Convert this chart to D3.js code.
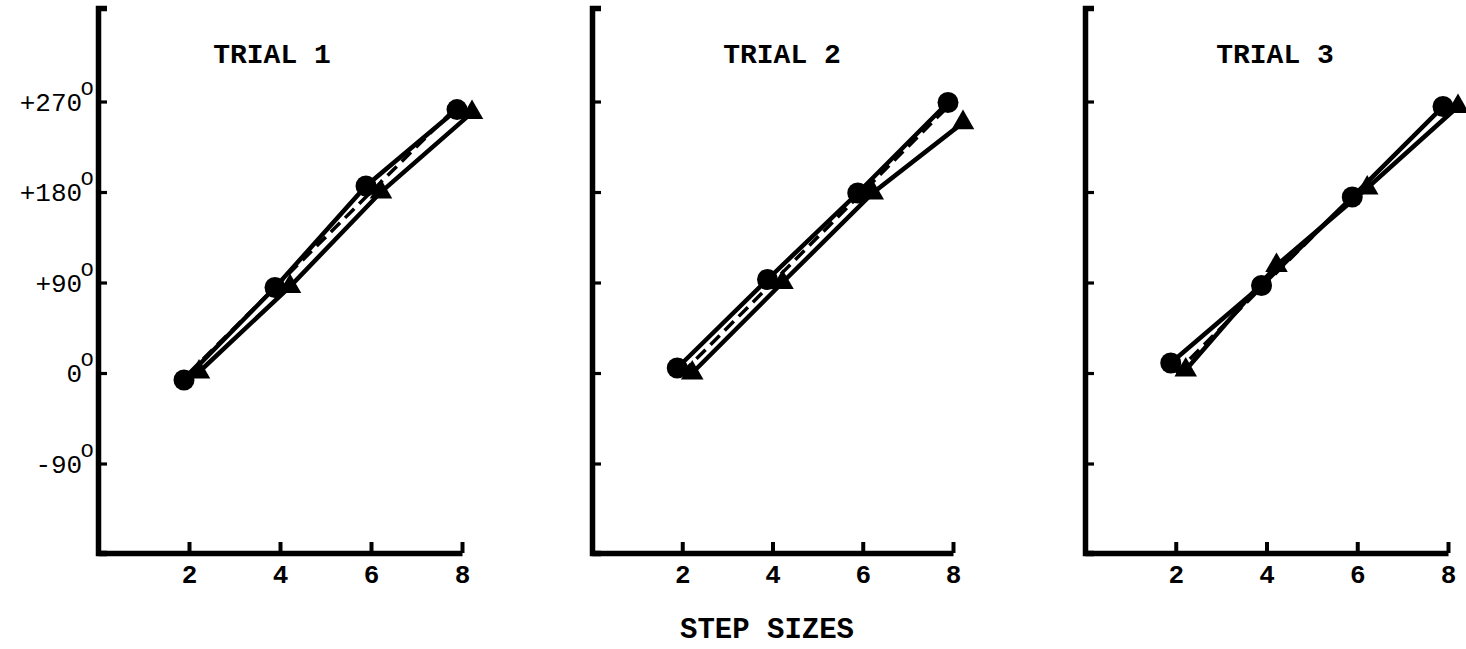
<!DOCTYPE html>
<html>
<head>
<meta charset="utf-8">
<script src="https://cdn.jsdelivr.net/npm/d3@7"></script>
<style>
  html, body { margin: 0; padding: 0; background: #fff; }
  svg { display: block; }
</style>
</head>
<body>
<svg id="chart" width="1466" height="649"></svg>
<script>
// ---- data ----
const steps = [2, 4, 6, 8];
const idealValues = [0, 90, 180, 270];
const trial1Circles = [-7, 85, 186, 262];
const trial1Triangles = [1, 86, 180, 259];
const trial2Circles = [5, 93, 179, 269];
const trial2Triangles = [0, 90, 179, 249];
const trial3Circles = [10, 87, 175, 265];
const trial3Triangles = [3, 107, 184, 265];
const trialTitles = ["TRIAL 1", "TRIAL 2", "TRIAL 3"];
const yTickValues = [-90, 0, 90, 180, 270];
const yTickLabels = ["-90", "0", "+90", "+180", "+270"];
const xTickValues = [2, 4, 6, 8];
const xAxisTitle = "STEP SIZES";
const degreeMark = "o";

// ---- layout ----
const panels = [
  { left: 98,  right: 462,  titleX: 272,  circles: trial1Circles, triangles: trial1Triangles, title: trialTitles[0], labels: true },
  { left: 592, right: 953,  titleX: 782,  circles: trial2Circles, triangles: trial2Triangles, title: trialTitles[1], labels: false },
  { left: 1085, right: 1448, titleX: 1275, circles: trial3Circles, triangles: trial3Triangles, title: trialTitles[2], labels: false }
];
const yTop = 8, yBottom = 553;
const monoFont = "'Liberation Mono', 'DejaVu Sans Mono', monospace";

const svg = d3.select("#chart");
const y = d3.scaleLinear().domain([-179, 363]).range([yBottom, yTop]);

panels.forEach(p => {
  const x = d3.scaleLinear().domain([0, 8]).range([p.left, p.right]);
  const g = svg.append("g");

  // y axis
  const yAxis = d3.axisLeft(y).tickValues(yTickValues).tickSizeInner(-9).tickSizeOuter(-9).tickFormat("");
  const ya = g.append("g").attr("transform", `translate(${p.left},0)`).call(yAxis);
  ya.select(".domain").attr("stroke", "#000").attr("stroke-width", 5.5);
  ya.selectAll(".tick line").attr("stroke", "#000").attr("stroke-width", 3.2);

  // x axis
  const xAxis = d3.axisBottom(x).tickValues(xTickValues).tickSizeInner(-11).tickSizeOuter(0).tickPadding(12).tickFormat(d3.format("d"));
  const xa = g.append("g").attr("transform", `translate(0,${yBottom})`).call(xAxis);
  xa.select(".domain").attr("stroke", "#000").attr("stroke-width", 5.5);
  xa.selectAll(".tick line").attr("stroke", "#000").attr("stroke-width", 4);
  xa.selectAll(".tick text")
    .attr("fill", "#000")
    .style("font-family", monoFont)
    .style("font-size", "26px")
    .style("font-weight", "bold");

  // y tick labels (first panel only)
  if (p.labels) {
    yTickValues.forEach((v, i) => {
      const t = g.append("text")
        .attr("x", p.left - 4)
        .attr("y", y(v) + 9)
        .attr("text-anchor", "end")
        .attr("fill", "#000")
        .style("font-family", monoFont)
        .style("font-size", "26px");
      t.append("tspan").text(yTickLabels[i]);
      t.append("tspan").attr("dx", -2).attr("dy", -16).style("font-size", "23px").text(degreeMark);
    });
  }

  // title
  g.append("text")
    .attr("x", p.titleX)
    .attr("y", 63)
    .attr("text-anchor", "middle")
    .attr("fill", "#000")
    .style("font-family", monoFont)
    .style("font-size", "28px")
    .style("font-weight", "bold")
    .text(p.title);

  // ideal dashed line
  const idealData = steps.map((s, i) => ({ s, v: idealValues[i] }));
  g.append("path")
    .datum(idealData)
    .attr("fill", "none")
    .attr("stroke", "#000")
    .attr("stroke-width", 3.5)
    .attr("stroke-dasharray", "13,7")
    .attr("d", d3.line().x(d => x(d.s)).y(d => y(d.v)));

  // series
  const circleData = steps.map((s, i) => ({ s, v: p.circles[i] }));
  const triData = steps.map((s, i) => ({ s, v: p.triangles[i] }));
  const circleDx = -5, triDx = 10;

  g.append("path")
    .datum(triData)
    .attr("fill", "none")
    .attr("stroke", "#000")
    .attr("stroke-width", 4.5)
    .attr("d", d3.line().x(d => x(d.s) + triDx).y(d => y(d.v)));
  g.append("path")
    .datum(circleData)
    .attr("fill", "none")
    .attr("stroke", "#000")
    .attr("stroke-width", 4.5)
    .attr("d", d3.line().x(d => x(d.s) + circleDx).y(d => y(d.v)));

  g.selectAll(".tri")
    .data(triData)
    .enter().append("path")
    .attr("class", "tri")
    .attr("fill", "#000")
    .attr("transform", d => `translate(${x(d.s) + triDx},${y(d.v)})`)
    .attr("d", d3.symbol(d3.symbolTriangle, 220)());

  g.selectAll(".dot")
    .data(circleData)
    .enter().append("circle")
    .attr("class", "dot")
    .attr("fill", "#000")
    .attr("cx", d => x(d.s) + circleDx)
    .attr("cy", d => y(d.v))
    .attr("r", 10.5);
});

// x axis title
svg.append("text")
  .attr("x", 767)
  .attr("y", 638)
  .attr("text-anchor", "middle")
  .attr("fill", "#000")
  .style("font-family", monoFont)
  .style("font-size", "29px")
  .style("font-weight", "bold")
  .text(xAxisTitle);
</script>
</body>
</html>
